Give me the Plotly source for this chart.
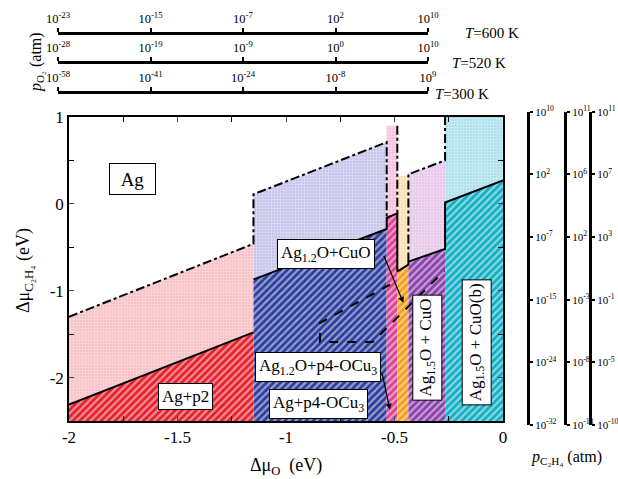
import plotly.graph_objects as go

# ---------------- data ----------------
# phase boundaries along Δμ_O (eV)
x_left = [-2.0, -1.15, -0.536, -0.487, -0.436, -0.267]
x_right = [-1.15, -0.536, -0.487, -0.436, -0.267, 0.0]
# top of hatched (stable) region at left / right edge (eV)
hatch_top_l = [-2.31, -0.87, -0.16, -0.78, -0.665, 0.015]
hatch_top_r = [-1.48, -0.29, -0.11, -0.70, -0.52, 0.27]
# top of dotted (metastable) region at left / right edge (eV)
dot_top_l = [-1.30, 0.11, 0.90, 0.32, 0.34, 1.0]
dot_top_r = [-0.46, 0.71, 0.90, 0.32, 0.50, 1.0]
hatch_colors = ["#e5202a", "#2b3c9c", "#dc3f94", "#f59d14", "#8a3fab", "#12afc4"]
dot_colors = ["#f7c2c8", "#c6c6ec", "#f5c2dd", "#fce0b4", "#e8c8ea", "#afe1ec"]

# dash-dot envelope lines
dd1_x = [-2.0, -1.15, -1.15, -0.536, -0.536]
dd1_y = [-1.30, -0.46, 0.11, 0.71, -0.16]
dd2_x = [-0.487, -0.487]
dd2_y = [0.90, -0.11]
dd3_x = [-0.436, -0.436, -0.267, -0.267]
dd3_y = [-0.665, 0.34, 0.50, 1.0]

# dashed region
dash_x = [-0.52, -0.843, -0.843, -0.60, -0.27]
dash_y = [-0.93, -1.37, -1.59, -1.59, -0.77]

# labels
lab_text = ["Ag", "Ag+p2", "Ag<sub>1.2</sub>O+CuO", "Ag<sub>1.2</sub>O+p4-OCu<sub>3</sub>",
            "Ag+p4-OCu<sub>3</sub>", "Ag<sub>1.5</sub>O + CuO", "Ag<sub>1.5</sub>O + CuO(b)"]
lab_x = [-1.707, -1.465, -0.817, -0.851, -0.848, -0.348, -0.122]
lab_y = [0.29, -2.22, -0.58, -1.88, -2.30, -1.65, -1.60]
lab_angle = [0, 0, 0, 0, 0, -90, -90]

# arrows (tail -> head)
arr_tail_x = [-0.552, -0.559]
arr_tail_y = [-0.58, -1.93]
arr_head_x = [-0.459, -0.521]
arr_head_y = [-1.14, -2.37]

# p_O2 nomograms (top)
po2_ticks = [
    ["-23", "-15", "-7", "2", "10"],
    ["-28", "-19", "-9", "0", "10"],
    ["-58", "-41", "-24", "-8", "9"],
]
po2_T = ["600", "520", "300"]
# p_C2H4 nomograms (right), bottom -> top
pc2h4_ticks = [
    ["-32", "-24", "-15", "-7", "2", "10"],
    ["-13", "-8", "-3", "2", "6", "11"],
    ["-10", "-5", "-1", "3", "7", "11"],
]

# ---------------- layout geometry ----------------
W, H = 618, 479
def px(x): return x / W
def py(y): return 1 - y / H

FONT = "Liberation Serif, Times New Roman, serif"
YB = -2.5

fig = go.Figure()

# dotted regions
for i in range(6):
    fig.add_trace(go.Scatter(
        x=[x_left[i], x_left[i], x_right[i], x_right[i]],
        y=[hatch_top_l[i], dot_top_l[i], dot_top_r[i], hatch_top_r[i]],
        fill="toself", mode="none", fillcolor=dot_colors[i],
        fillpattern=dict(shape="+", fgcolor="white", bgcolor=dot_colors[i], size=3, solidity=0.3),
        hoverinfo="skip", showlegend=False))
# hatched regions (white stripes over the phase colour)
for i in range(6):
    fig.add_trace(go.Scatter(
        x=[x_left[i], x_left[i], x_right[i], x_right[i]],
        y=[YB, hatch_top_l[i], hatch_top_r[i], YB],
        fill="toself", mode="none", fillcolor=hatch_colors[i],
        fillpattern=dict(shape="/", fgcolor="white", bgcolor=hatch_colors[i], size=5, solidity=0.45),
        hoverinfo="skip", showlegend=False))

# solid line along hatched tops
sx, sy = [], []
for i in range(6):
    if i == 1:
        sx.append(None); sy.append(None)
    sx += [x_left[i], x_right[i]]
    sy += [hatch_top_l[i], hatch_top_r[i]]
fig.add_trace(go.Scatter(x=sx, y=sy, mode="lines", line=dict(color="black", width=2),
                         hoverinfo="skip", showlegend=False))

for xs, ys in [(dd1_x, dd1_y), (dd2_x, dd2_y), (dd3_x, dd3_y)]:
    fig.add_trace(go.Scatter(x=xs, y=ys, mode="lines",
                             line=dict(color="black", width=2, dash="dashdot"),
                             hoverinfo="skip", showlegend=False))
fig.add_trace(go.Scatter(x=dash_x, y=dash_y, mode="lines",
                         line=dict(color="black", width=2, dash="dash"),
                         hoverinfo="skip", showlegend=False))

# dummy traces for nomogram axes
for k in range(3):
    fig.add_trace(go.Scatter(x=[0], y=[0], xaxis="x%d" % (k + 2), yaxis="y5", mode="markers",
                             marker=dict(opacity=0), hoverinfo="skip", showlegend=False))
    fig.add_trace(go.Scatter(x=[0], y=[0], xaxis="x5", yaxis="y%d" % (k + 2), mode="markers",
                             marker=dict(opacity=0), hoverinfo="skip", showlegend=False))

ann = []
for t, x, y, a in zip(lab_text, lab_x, lab_y, lab_angle):
    d = dict(x=x, y=y, xref="x", yref="y", text=t, showarrow=False, textangle=a,
             xanchor="center", yanchor="middle",
             font=dict(family=FONT, size=17, color="black"),
             bgcolor="white", bordercolor="black", borderwidth=1, borderpad=3)
    if t == "Ag":
        d.update(width=39, height=24, font=dict(family=FONT, size=19, color="black"))
    ann.append(d)
for tx, ty, hx, hy in zip(arr_tail_x, arr_tail_y, arr_head_x, arr_head_y):
    ann.append(dict(x=hx, y=hy, ax=tx, ay=ty, xref="x", yref="y", axref="x", ayref="y",
                    text="", showarrow=True, arrowhead=2, arrowsize=1, arrowwidth=1.2,
                    arrowcolor="black"))

layout = dict(
    width=W, height=H, margin=dict(l=0, r=0, t=0, b=0),
    paper_bgcolor="white", plot_bgcolor="rgba(0,0,0,0)",
    font=dict(family=FONT, color="black"),
    xaxis=dict(domain=[px(69), px(503)], range=[-2, 0], anchor="y",
               tickvals=[-2, -1.5, -1, -0.5, 0], ticktext=["-2", "-1.5", "-1", "-0.5", "0"],
               ticks="inside", ticklen=5, mirror="ticks", showline=True, linecolor="black", linewidth=1.5,
               minor=dict(dtick=0.25, ticks="inside", ticklen=5, tickcolor="black"),
               showgrid=False, zeroline=False, tickfont=dict(size=17), automargin=False),
    yaxis=dict(domain=[py(421), py(117)], range=[YB, 1], anchor="x",
               tickvals=[-2, -1, 0, 1], ticktext=["-2", "-1", "0", "1"],
               ticks="inside", ticklen=5, mirror="ticks", showline=True, linecolor="black", linewidth=1.5,
               minor=dict(dtick=0.5, ticks="inside", ticklen=5, tickcolor="black"),
               showgrid=False, zeroline=False, tickfont=dict(size=17), automargin=False),
    yaxis5=dict(domain=[py(110), 1], visible=False, range=[0, 1], anchor="x2"),
    xaxis5=dict(domain=[px(515), 1], visible=False, range=[0, 1], anchor="y2"),
)
top_y = [33, 62, 92]
T_x = [463, 450, 433]
T_y = [33, 63, 94]
for k in range(3):
    layout["xaxis%d" % (k + 2)] = dict(
        domain=[px(58), px(428)], range=[0, 4], anchor="free", position=py(top_y[k]), side="top",
        tickvals=list(range(5)), ticktext=["10<sup>%s</sup>" % v for v in po2_ticks[k]],
        ticks="outside", ticklen=4, tickwidth=2, tickcolor="black",
        showline=True, linecolor="black", linewidth=3, showgrid=False, zeroline=False,
        tickfont=dict(size=12.5), automargin=False, ticklabelstandoff=0)
    ann.append(dict(x=px(T_x[k]), y=py(T_y[k]), xref="paper", yref="paper",
                    xanchor="left", yanchor="middle", showarrow=False,
                    text="<i>T</i>=%s K" % po2_T[k], font=dict(size=15)))
right_x = [528, 565, 590]
for k in range(3):
    layout["yaxis%d" % (k + 2)] = dict(
        domain=[py(425), py(111.7)], range=[0, 5], anchor="free", position=px(right_x[k]), side="right",
        tickvals=list(range(6)), ticktext=["10<sup>%s</sup>" % v for v in pc2h4_ticks[k]],
        ticks="outside", ticklen=3, tickwidth=2, tickcolor="black",
        showline=True, linecolor="black", linewidth=3, showgrid=False, zeroline=False,
        tickfont=dict(size=11), automargin=False, ticklabelstandoff=0)

def title_ann(x, y, text, size, angle=0):
    return dict(x=px(x), y=py(y), xref="paper", yref="paper", xanchor="center", yanchor="middle",
                showarrow=False, textangle=angle, text=text, font=dict(size=size))

ann.append(title_ann(286, 466, "Δμ<sub>O</sub>  (eV)", 18))
ann.append(title_ann(24, 270, "Δμ<sub>C₂H₄</sub> (eV)", 18, -90))
ann.append(title_ann(37, 62, "<i>p</i><sub>O₂</sub> (atm)", 16, -90))
ann.append(title_ann(566, 457, "<i>p</i><sub>C₂H₄</sub> (atm)", 16))
layout["annotations"] = ann
fig.update_layout(**layout)
fig.write_html("out.html", post_script="document.body.style.margin='0px';",
               config={"displayModeBar": False})
